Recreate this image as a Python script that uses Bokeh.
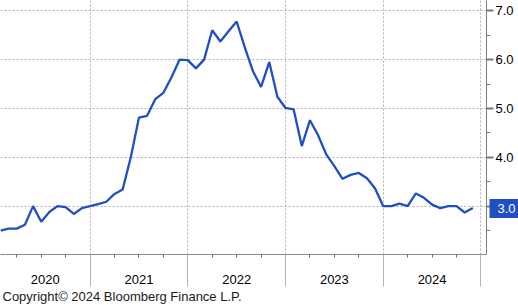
from bokeh.plotting import figure
from bokeh.models import Range1d, LinearAxis, FixedTicker, Title
from bokeh.embed import file_html
from bokeh.resources import INLINE

# ---- data (monthly) ----
months = [f"{y}-{m:02d}" for y in range(2020, 2025) for m in range(1, 13)][:59]
values = [2.50, 2.54, 2.54, 2.62, 3.00, 2.68, 2.88, 3.00, 2.98, 2.84, 2.96, 3.00,
          3.04, 3.09, 3.25, 3.34, 4.00, 4.81, 4.85, 5.19, 5.32, 5.64, 6.00, 5.99,
          5.82, 6.00, 6.60, 6.37, 6.58, 6.78, 6.25, 5.76, 5.44, 5.95, 5.24, 5.01,
          4.98, 4.23, 4.76, 4.45, 4.06, 3.82, 3.56, 3.64, 3.68, 3.57, 3.36, 3.00,
          3.00, 3.05, 3.00, 3.26, 3.17, 3.03, 2.96, 3.00, 3.00, 2.87, 2.96]
years = ["2020", "2021", "2022", "2023", "2024"]
y_ticks = [3.0, 4.0, 5.0, 6.0, 7.0]
y_minor = [2.5, 3.5, 4.5, 5.5, 6.5]
copyright_text = "Copyright\u00a9 2024 Bloomberg Finance L.P."

def idx(s):
    y, m = s.split("-")
    return (int(y) - 2020) * 12 + int(m) - 1

xs = [idx(s) for s in months]

X0, X1 = 0.0, 59.68
Y0, Y1 = 2.01, 7.21
FONT = "Liberation Sans"
BLUE = "#1f4fc3"

p = figure(width=518, height=305, x_range=Range1d(X0, X1), y_range=Range1d(Y0, Y1),
           output_backend="svg", toolbar_location=None, y_axis_location="right",
           min_border_left=0, min_border_right=30, min_border_top=0, min_border_bottom=51,
           outline_line_color=None, background_fill_color="white", border_fill_color="white")

bounds = [(int(y) - 2020) * 12 + 11 for y in years]
starts = [max(X0, b - 12) for b in bounds]
centers = [(s + b) / 2 for s, b in zip(starts, bounds)]
quarters = [i for i in range(0, 60) if i % 3 == 2]

# bottom axis: year labels + quarter ticks
ax = p.xaxis[0]
ax.ticker = FixedTicker(ticks=centers, minor_ticks=quarters)
ax.major_label_overrides = {c: y for c, y in zip(centers, years)}
ax.major_tick_out = 0
ax.major_tick_in = 0
ax.minor_tick_out = 3
ax.minor_tick_in = 0
ax.axis_line_color = "#8a8a8a"
ax.minor_tick_line_color = "#6a6a6a"
ax.major_label_standoff = 17
ax.major_label_text_font = FONT
ax.major_label_text_font_size = "13px"
ax.major_label_text_color = "#000000"

# second bottom axis: long year separators pointing up
axb = LinearAxis(ticker=FixedTicker(ticks=bounds, minor_ticks=[]),
                 major_tick_in=32, major_tick_out=0, minor_tick_in=0, minor_tick_out=0,
                 axis_line_color=None, major_tick_line_color="#b4b4b4",
                 major_label_overrides={b: "" for b in bounds}, major_label_standoff=0)
p.add_layout(axb, "below")

# right value axis
ay = p.yaxis[0]
ay.ticker = FixedTicker(ticks=y_ticks, minor_ticks=y_minor)
ay.major_label_overrides = {t: f"{t:.1f}" for t in y_ticks}
ay.axis_line_color = "#808080"
ay.major_tick_out = 7
ay.major_tick_in = 0
ay.major_tick_line_width = 2
ay.major_tick_line_color = "#7a7a7a"
ay.minor_tick_out = 4
ay.minor_tick_in = 0
ay.minor_tick_line_color = "#7a7a7a"
ay.major_label_standoff = 2
ay.major_label_text_font = FONT
ay.major_label_text_font_size = "13px"
ay.major_label_text_color = "#000000"

# last-value tag: a second right axis whose single thick tick is the blue box
last = values[-1]
tag = LinearAxis(ticker=FixedTicker(ticks=[last], minor_ticks=[]),
                 major_label_overrides={last: f"{last:.1f}"},
                 axis_line_color=None,
                 major_tick_in=27, major_tick_out=3,
                 major_tick_line_width=19, major_tick_line_color=BLUE,
                 minor_tick_in=0, minor_tick_out=0,
                 major_label_standoff=-22,
                 major_label_text_font=FONT, major_label_text_font_size="13px",
                 major_label_text_color="white")
p.add_layout(tag, "right")

# grids
p.xgrid.ticker = FixedTicker(ticks=bounds)
p.ygrid.ticker = FixedTicker(ticks=y_ticks)
for g in (p.xgrid, p.ygrid):
    g.grid_line_color = "#b0b0b0"
    g.grid_line_dash = "2 2"
    g.grid_line_width = 1

p.line(xs, values, line_color=BLUE, line_width=2.3)

p.add_layout(Title(text=copyright_text, align="left", text_font=FONT, text_font_size="13px",
                   text_font_style="normal", text_color="#1a1a1a", standoff=0, offset=2), "below")

open("out.html", "w").write(file_html(p, INLINE))
